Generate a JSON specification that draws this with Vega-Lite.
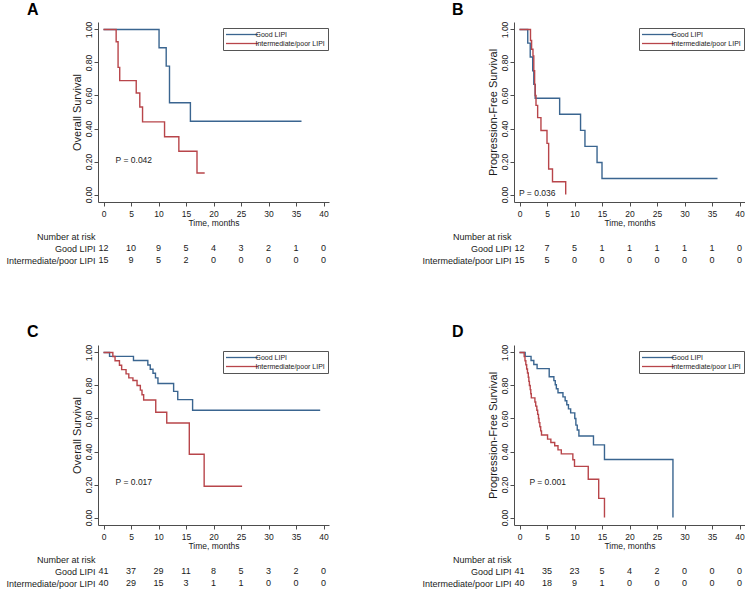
{
  "$schema": "https://vega.github.io/schema/vega-lite/v6.json",
  "background": "white",
  "padding": {"left": 5, "top": 2, "right": 0, "bottom": 0},
  "datasets": {
    "km": [
      {"p":"A","g":"Good LIPI","t":0,"s":1},{"p":"A","g":"Good LIPI","t":10.1,"s":0.889},{"p":"A","g":"Good LIPI","t":11.4,"s":0.778},{"p":"A","g":"Good LIPI","t":12.0,"s":0.556},{"p":"A","g":"Good LIPI","t":15.8,"s":0.444},{"p":"A","g":"Good LIPI","t":36.0,"s":0.444},
      {"p":"A","g":"Intermediate/poor LIPI","t":0,"s":1},{"p":"A","g":"Intermediate/poor LIPI","t":2.3,"s":0.925},{"p":"A","g":"Intermediate/poor LIPI","t":2.65,"s":0.77},{"p":"A","g":"Intermediate/poor LIPI","t":2.95,"s":0.69},{"p":"A","g":"Intermediate/poor LIPI","t":5.95,"s":0.615},{"p":"A","g":"Intermediate/poor LIPI","t":6.6,"s":0.53},{"p":"A","g":"Intermediate/poor LIPI","t":7.1,"s":0.44},{"p":"A","g":"Intermediate/poor LIPI","t":11.1,"s":0.35},{"p":"A","g":"Intermediate/poor LIPI","t":13.7,"s":0.262},{"p":"A","g":"Intermediate/poor LIPI","t":17.0,"s":0.131},{"p":"A","g":"Intermediate/poor LIPI","t":18.4,"s":0.131},
      {"p":"B","g":"Good LIPI","t":0,"s":1},{"p":"B","g":"Good LIPI","t":1.5,"s":0.917},{"p":"B","g":"Good LIPI","t":1.95,"s":0.833},{"p":"B","g":"Good LIPI","t":2.4,"s":0.75},{"p":"B","g":"Good LIPI","t":2.6,"s":0.667},{"p":"B","g":"Good LIPI","t":2.85,"s":0.583},{"p":"B","g":"Good LIPI","t":7.3,"s":0.486},{"p":"B","g":"Good LIPI","t":11.1,"s":0.389},{"p":"B","g":"Good LIPI","t":11.9,"s":0.292},{"p":"B","g":"Good LIPI","t":14.1,"s":0.194},{"p":"B","g":"Good LIPI","t":15.0,"s":0.097},{"p":"B","g":"Good LIPI","t":36.0,"s":0.097},
      {"p":"B","g":"Intermediate/poor LIPI","t":0,"s":1},{"p":"B","g":"Intermediate/poor LIPI","t":2.0,"s":0.933},{"p":"B","g":"Intermediate/poor LIPI","t":2.2,"s":0.88},{"p":"B","g":"Intermediate/poor LIPI","t":2.45,"s":0.84},{"p":"B","g":"Intermediate/poor LIPI","t":2.6,"s":0.75},{"p":"B","g":"Intermediate/poor LIPI","t":2.75,"s":0.667},{"p":"B","g":"Intermediate/poor LIPI","t":2.85,"s":0.6},{"p":"B","g":"Intermediate/poor LIPI","t":3.0,"s":0.54},{"p":"B","g":"Intermediate/poor LIPI","t":3.3,"s":0.466},{"p":"B","g":"Intermediate/poor LIPI","t":3.9,"s":0.388},{"p":"B","g":"Intermediate/poor LIPI","t":5.0,"s":0.31},{"p":"B","g":"Intermediate/poor LIPI","t":5.3,"s":0.155},{"p":"B","g":"Intermediate/poor LIPI","t":6.0,"s":0.078},{"p":"B","g":"Intermediate/poor LIPI","t":8.4,"s":0},
      {"p":"C","g":"Good LIPI","t":0,"s":1},{"p":"C","g":"Good LIPI","t":1.1,"s":0.976},{"p":"C","g":"Good LIPI","t":5.45,"s":0.951},{"p":"C","g":"Good LIPI","t":8.06,"s":0.924},{"p":"C","g":"Good LIPI","t":8.5,"s":0.898},{"p":"C","g":"Good LIPI","t":9.0,"s":0.874},{"p":"C","g":"Good LIPI","t":9.45,"s":0.846},{"p":"C","g":"Good LIPI","t":9.9,"s":0.812},{"p":"C","g":"Good LIPI","t":12.75,"s":0.764},{"p":"C","g":"Good LIPI","t":13.5,"s":0.714},{"p":"C","g":"Good LIPI","t":16.2,"s":0.65},{"p":"C","g":"Good LIPI","t":39.4,"s":0.65},
      {"p":"C","g":"Intermediate/poor LIPI","t":0,"s":1},{"p":"C","g":"Intermediate/poor LIPI","t":1.7,"s":0.975},{"p":"C","g":"Intermediate/poor LIPI","t":2.1,"s":0.95},{"p":"C","g":"Intermediate/poor LIPI","t":2.9,"s":0.922},{"p":"C","g":"Intermediate/poor LIPI","t":3.3,"s":0.896},{"p":"C","g":"Intermediate/poor LIPI","t":4.1,"s":0.87},{"p":"C","g":"Intermediate/poor LIPI","t":4.6,"s":0.846},{"p":"C","g":"Intermediate/poor LIPI","t":5.35,"s":0.83},{"p":"C","g":"Intermediate/poor LIPI","t":6.1,"s":0.8},{"p":"C","g":"Intermediate/poor LIPI","t":6.7,"s":0.772},{"p":"C","g":"Intermediate/poor LIPI","t":7.0,"s":0.744},{"p":"C","g":"Intermediate/poor LIPI","t":7.3,"s":0.712},{"p":"C","g":"Intermediate/poor LIPI","t":9.5,"s":0.638},{"p":"C","g":"Intermediate/poor LIPI","t":11.5,"s":0.573},{"p":"C","g":"Intermediate/poor LIPI","t":15.6,"s":0.383},{"p":"C","g":"Intermediate/poor LIPI","t":18.3,"s":0.19},{"p":"C","g":"Intermediate/poor LIPI","t":25.2,"s":0.19},
      {"p":"D","g":"Good LIPI","t":0,"s":1},{"p":"D","g":"Good LIPI","t":1.03,"s":0.976},{"p":"D","g":"Good LIPI","t":2.1,"s":0.951},{"p":"D","g":"Good LIPI","t":2.6,"s":0.927},{"p":"D","g":"Good LIPI","t":3.2,"s":0.902},{"p":"D","g":"Good LIPI","t":5.4,"s":0.853},{"p":"D","g":"Good LIPI","t":6.25,"s":0.829},{"p":"D","g":"Good LIPI","t":6.5,"s":0.804},{"p":"D","g":"Good LIPI","t":6.7,"s":0.78},{"p":"D","g":"Good LIPI","t":7.0,"s":0.756},{"p":"D","g":"Good LIPI","t":7.9,"s":0.731},{"p":"D","g":"Good LIPI","t":8.3,"s":0.707},{"p":"D","g":"Good LIPI","t":8.6,"s":0.683},{"p":"D","g":"Good LIPI","t":8.9,"s":0.658},{"p":"D","g":"Good LIPI","t":9.3,"s":0.634},{"p":"D","g":"Good LIPI","t":10.05,"s":0.6},{"p":"D","g":"Good LIPI","t":10.25,"s":0.56},{"p":"D","g":"Good LIPI","t":10.5,"s":0.53},{"p":"D","g":"Good LIPI","t":10.8,"s":0.494},{"p":"D","g":"Good LIPI","t":13.45,"s":0.44},{"p":"D","g":"Good LIPI","t":15.45,"s":0.352},{"p":"D","g":"Good LIPI","t":27.9,"s":0},
      {"p":"D","g":"Intermediate/poor LIPI","t":0,"s":1},{"p":"D","g":"Intermediate/poor LIPI","t":0.85,"s":0.975},{"p":"D","g":"Intermediate/poor LIPI","t":1.0,"s":0.95},{"p":"D","g":"Intermediate/poor LIPI","t":1.15,"s":0.925},{"p":"D","g":"Intermediate/poor LIPI","t":1.3,"s":0.9},{"p":"D","g":"Intermediate/poor LIPI","t":1.45,"s":0.875},{"p":"D","g":"Intermediate/poor LIPI","t":1.6,"s":0.85},{"p":"D","g":"Intermediate/poor LIPI","t":1.7,"s":0.825},{"p":"D","g":"Intermediate/poor LIPI","t":1.8,"s":0.8},{"p":"D","g":"Intermediate/poor LIPI","t":1.95,"s":0.775},{"p":"D","g":"Intermediate/poor LIPI","t":2.05,"s":0.75},{"p":"D","g":"Intermediate/poor LIPI","t":2.15,"s":0.725},{"p":"D","g":"Intermediate/poor LIPI","t":2.8,"s":0.7},{"p":"D","g":"Intermediate/poor LIPI","t":2.95,"s":0.675},{"p":"D","g":"Intermediate/poor LIPI","t":3.15,"s":0.65},{"p":"D","g":"Intermediate/poor LIPI","t":3.3,"s":0.625},{"p":"D","g":"Intermediate/poor LIPI","t":3.45,"s":0.6},{"p":"D","g":"Intermediate/poor LIPI","t":3.55,"s":0.575},{"p":"D","g":"Intermediate/poor LIPI","t":3.7,"s":0.55},{"p":"D","g":"Intermediate/poor LIPI","t":3.85,"s":0.525},{"p":"D","g":"Intermediate/poor LIPI","t":4.0,"s":0.5},{"p":"D","g":"Intermediate/poor LIPI","t":5.1,"s":0.475},{"p":"D","g":"Intermediate/poor LIPI","t":5.7,"s":0.455},{"p":"D","g":"Intermediate/poor LIPI","t":6.4,"s":0.435},{"p":"D","g":"Intermediate/poor LIPI","t":7.0,"s":0.41},{"p":"D","g":"Intermediate/poor LIPI","t":7.6,"s":0.386},{"p":"D","g":"Intermediate/poor LIPI","t":9.7,"s":0.35},{"p":"D","g":"Intermediate/poor LIPI","t":10.0,"s":0.31},{"p":"D","g":"Intermediate/poor LIPI","t":12.5,"s":0.232},{"p":"D","g":"Intermediate/poor LIPI","t":14.4,"s":0.116},{"p":"D","g":"Intermediate/poor LIPI","t":15.45,"s":0}
    ],
    "risk": [
      {"p":"A","g":"Good LIPI","t":0,"n":12},{"p":"A","g":"Good LIPI","t":5,"n":10},{"p":"A","g":"Good LIPI","t":10,"n":9},{"p":"A","g":"Good LIPI","t":15,"n":5},{"p":"A","g":"Good LIPI","t":20,"n":4},{"p":"A","g":"Good LIPI","t":25,"n":3},{"p":"A","g":"Good LIPI","t":30,"n":2},{"p":"A","g":"Good LIPI","t":35,"n":1},{"p":"A","g":"Good LIPI","t":40,"n":0},
      {"p":"A","g":"Intermediate/poor LIPI","t":0,"n":15},{"p":"A","g":"Intermediate/poor LIPI","t":5,"n":9},{"p":"A","g":"Intermediate/poor LIPI","t":10,"n":5},{"p":"A","g":"Intermediate/poor LIPI","t":15,"n":2},{"p":"A","g":"Intermediate/poor LIPI","t":20,"n":0},{"p":"A","g":"Intermediate/poor LIPI","t":25,"n":0},{"p":"A","g":"Intermediate/poor LIPI","t":30,"n":0},{"p":"A","g":"Intermediate/poor LIPI","t":35,"n":0},{"p":"A","g":"Intermediate/poor LIPI","t":40,"n":0},
      {"p":"B","g":"Good LIPI","t":0,"n":12},{"p":"B","g":"Good LIPI","t":5,"n":7},{"p":"B","g":"Good LIPI","t":10,"n":5},{"p":"B","g":"Good LIPI","t":15,"n":1},{"p":"B","g":"Good LIPI","t":20,"n":1},{"p":"B","g":"Good LIPI","t":25,"n":1},{"p":"B","g":"Good LIPI","t":30,"n":1},{"p":"B","g":"Good LIPI","t":35,"n":1},{"p":"B","g":"Good LIPI","t":40,"n":0},
      {"p":"B","g":"Intermediate/poor LIPI","t":0,"n":15},{"p":"B","g":"Intermediate/poor LIPI","t":5,"n":5},{"p":"B","g":"Intermediate/poor LIPI","t":10,"n":0},{"p":"B","g":"Intermediate/poor LIPI","t":15,"n":0},{"p":"B","g":"Intermediate/poor LIPI","t":20,"n":0},{"p":"B","g":"Intermediate/poor LIPI","t":25,"n":0},{"p":"B","g":"Intermediate/poor LIPI","t":30,"n":0},{"p":"B","g":"Intermediate/poor LIPI","t":35,"n":0},{"p":"B","g":"Intermediate/poor LIPI","t":40,"n":0},
      {"p":"C","g":"Good LIPI","t":0,"n":41},{"p":"C","g":"Good LIPI","t":5,"n":37},{"p":"C","g":"Good LIPI","t":10,"n":29},{"p":"C","g":"Good LIPI","t":15,"n":11},{"p":"C","g":"Good LIPI","t":20,"n":8},{"p":"C","g":"Good LIPI","t":25,"n":5},{"p":"C","g":"Good LIPI","t":30,"n":3},{"p":"C","g":"Good LIPI","t":35,"n":2},{"p":"C","g":"Good LIPI","t":40,"n":0},
      {"p":"C","g":"Intermediate/poor LIPI","t":0,"n":40},{"p":"C","g":"Intermediate/poor LIPI","t":5,"n":29},{"p":"C","g":"Intermediate/poor LIPI","t":10,"n":15},{"p":"C","g":"Intermediate/poor LIPI","t":15,"n":3},{"p":"C","g":"Intermediate/poor LIPI","t":20,"n":1},{"p":"C","g":"Intermediate/poor LIPI","t":25,"n":1},{"p":"C","g":"Intermediate/poor LIPI","t":30,"n":0},{"p":"C","g":"Intermediate/poor LIPI","t":35,"n":0},{"p":"C","g":"Intermediate/poor LIPI","t":40,"n":0},
      {"p":"D","g":"Good LIPI","t":0,"n":41},{"p":"D","g":"Good LIPI","t":5,"n":35},{"p":"D","g":"Good LIPI","t":10,"n":23},{"p":"D","g":"Good LIPI","t":15,"n":5},{"p":"D","g":"Good LIPI","t":20,"n":4},{"p":"D","g":"Good LIPI","t":25,"n":2},{"p":"D","g":"Good LIPI","t":30,"n":0},{"p":"D","g":"Good LIPI","t":35,"n":0},{"p":"D","g":"Good LIPI","t":40,"n":0},
      {"p":"D","g":"Intermediate/poor LIPI","t":0,"n":40},{"p":"D","g":"Intermediate/poor LIPI","t":5,"n":18},{"p":"D","g":"Intermediate/poor LIPI","t":10,"n":9},{"p":"D","g":"Intermediate/poor LIPI","t":15,"n":1},{"p":"D","g":"Intermediate/poor LIPI","t":20,"n":0},{"p":"D","g":"Intermediate/poor LIPI","t":25,"n":0},{"p":"D","g":"Intermediate/poor LIPI","t":30,"n":0},{"p":"D","g":"Intermediate/poor LIPI","t":35,"n":0},{"p":"D","g":"Intermediate/poor LIPI","t":40,"n":0}
    ]
  },
  "columns": 2,
  "spacing": {"row": 58, "column": 92},
  "resolve": {"scale": {"x": "independent", "y": "independent", "color": "independent"}, "legend": {"color": "independent"}},
  "concat": [
    {
      "spacing": 3,
      "resolve": {"scale": {"x": "independent", "y": "independent"}},
      "vconcat": [
        {
          "title": {"text": "A", "anchor": "start", "frame": "group", "dx": -71, "offset": 3},
          "width": 231, "height": 180,
          "layer": [
            {
              "data": {"name": "km"}, "transform": [{"filter": "datum.p == 'A'"}],
              "mark": {"type": "line", "interpolate": "step-after", "strokeWidth": 1.4},
              "encoding": {
                "x": {"field": "t", "type": "quantitative", "scale": {"domain": [-1, 41], "nice": false, "zero": false}, "axis": {"values": [0,5,10,15,20,25,30,35,40], "title": "Time, months", "labelOverlap": false}},
                "y": {"field": "s", "type": "quantitative", "scale": {"domain": [-0.045, 1.045], "nice": false, "zero": false}, "axis": {"values": [0,0.2,0.4,0.6,0.8,1], "format": ".2f", "title": "Overall Survival", "labelOverlap": false}},
                "color": {"field": "g", "type": "nominal", "scale": {"domain": ["Good LIPI", "Intermediate/poor LIPI"], "range": ["#3a6590", "#b8454a"]},
                  "legend": {"title": null, "orient": "none", "legendX": 125, "legendY": 6, "symbolType": "M0,0H16", "symbolSize": 16, "symbolOffset": -3.5, "symbolStrokeWidth": 1.3, "labelFontSize": 7, "labelOffset": 26, "rowPadding": 1, "padding": 3, "strokeColor": "#555", "fillColor": "white", "labelLimit": 300}}
              }
            },
            {
              "data": {"values": [{}]},
              "mark": {"type": "text", "align": "left", "baseline": "middle", "fontSize": 8.5},
              "encoding": {
                "x": {"datum": 2.2, "type": "quantitative", "axis": {"values": [0,5,10,15,20,25,30,35,40], "title": "Time, months", "labelOverlap": false}},
                "y": {"datum": 0.212, "type": "quantitative", "axis": {"values": [0,0.2,0.4,0.6,0.8,1], "format": ".2f", "title": "Overall Survival", "labelOverlap": false}},
                "text": {"value": "P = 0.042"}}
            }
          ]
        },
        {
          "width": 231, "height": 36,
          "data": {"name": "risk"}, "transform": [{"filter": "datum.p == 'A'"}],
          "mark": {"type": "text", "fontSize": 9},
          "encoding": {
            "x": {"field": "t", "type": "quantitative", "scale": {"domain": [-1, 41], "nice": false, "zero": false}, "axis": null},
            "y": {"field": "g", "type": "nominal", "scale": {"type": "point", "padding": 0.5, "domain": ["Number at risk", "Good LIPI", "Intermediate/poor LIPI"]}, "axis": {"title": null, "domain": false, "ticks": false, "labelAngle": 0, "labelAlign": "right", "labelBaseline": "middle", "labelPadding": 3, "labelFontSize": 9, "labelLimit": 300}},
            "text": {"field": "n", "type": "nominal"}
          }
        }
      ]
    },
    {
      "spacing": 3,
      "resolve": {"scale": {"x": "independent", "y": "independent"}},
      "vconcat": [
        {
          "title": {"text": "B", "anchor": "start", "frame": "group", "dx": -62, "offset": 3},
          "width": 231, "height": 180,
          "layer": [
            {
              "data": {"name": "km"}, "transform": [{"filter": "datum.p == 'B'"}],
              "mark": {"type": "line", "interpolate": "step-after", "strokeWidth": 1.4},
              "encoding": {
                "x": {"field": "t", "type": "quantitative", "scale": {"domain": [-1, 41], "nice": false, "zero": false}, "axis": {"values": [0,5,10,15,20,25,30,35,40], "title": "Time, months", "labelOverlap": false}},
                "y": {"field": "s", "type": "quantitative", "scale": {"domain": [-0.045, 1.045], "nice": false, "zero": false}, "axis": {"values": [0,0.2,0.4,0.6,0.8,1], "format": ".2f", "title": "Progression-Free Survival", "labelOverlap": false}},
                "color": {"field": "g", "type": "nominal", "scale": {"domain": ["Good LIPI", "Intermediate/poor LIPI"], "range": ["#3a6590", "#b8454a"]},
                  "legend": {"title": null, "orient": "none", "legendX": 125, "legendY": 6, "symbolType": "M0,0H16", "symbolSize": 16, "symbolOffset": -3.5, "symbolStrokeWidth": 1.3, "labelFontSize": 7, "labelOffset": 26, "rowPadding": 1, "padding": 3, "strokeColor": "#555", "fillColor": "white", "labelLimit": 300}}
              }
            },
            {
              "data": {"values": [{}]},
              "mark": {"type": "text", "align": "left", "baseline": "middle", "fontSize": 8.5},
              "encoding": {
                "x": {"datum": -0.1, "type": "quantitative", "axis": {"values": [0,5,10,15,20,25,30,35,40], "title": "Time, months", "labelOverlap": false}},
                "y": {"datum": 0.012, "type": "quantitative", "axis": {"values": [0,0.2,0.4,0.6,0.8,1], "format": ".2f", "title": "Progression-Free Survival", "labelOverlap": false}},
                "text": {"value": "P = 0.036"}}
            }
          ]
        },
        {
          "width": 231, "height": 36,
          "data": {"name": "risk"}, "transform": [{"filter": "datum.p == 'B'"}],
          "mark": {"type": "text", "fontSize": 9},
          "encoding": {
            "x": {"field": "t", "type": "quantitative", "scale": {"domain": [-1, 41], "nice": false, "zero": false}, "axis": null},
            "y": {"field": "g", "type": "nominal", "scale": {"type": "point", "padding": 0.5, "domain": ["Number at risk", "Good LIPI", "Intermediate/poor LIPI"]}, "axis": {"title": null, "domain": false, "ticks": false, "labelAngle": 0, "labelAlign": "right", "labelBaseline": "middle", "labelPadding": 3, "labelFontSize": 9, "labelLimit": 300}},
            "text": {"field": "n", "type": "nominal"}
          }
        }
      ]
    },
    {
      "spacing": 3,
      "resolve": {"scale": {"x": "independent", "y": "independent"}},
      "vconcat": [
        {
          "title": {"text": "C", "anchor": "start", "frame": "group", "dx": -71, "offset": 4},
          "width": 231, "height": 180,
          "layer": [
            {
              "data": {"name": "km"}, "transform": [{"filter": "datum.p == 'C'"}],
              "mark": {"type": "line", "interpolate": "step-after", "strokeWidth": 1.4},
              "encoding": {
                "x": {"field": "t", "type": "quantitative", "scale": {"domain": [-1, 41], "nice": false, "zero": false}, "axis": {"values": [0,5,10,15,20,25,30,35,40], "title": "Time, months", "labelOverlap": false}},
                "y": {"field": "s", "type": "quantitative", "scale": {"domain": [-0.045, 1.045], "nice": false, "zero": false}, "axis": {"values": [0,0.2,0.4,0.6,0.8,1], "format": ".2f", "title": "Overall Survival", "labelOverlap": false}},
                "color": {"field": "g", "type": "nominal", "scale": {"domain": ["Good LIPI", "Intermediate/poor LIPI"], "range": ["#3a6590", "#b8454a"]},
                  "legend": {"title": null, "orient": "none", "legendX": 125, "legendY": 6, "symbolType": "M0,0H16", "symbolSize": 16, "symbolOffset": -3.5, "symbolStrokeWidth": 1.3, "labelFontSize": 7, "labelOffset": 26, "rowPadding": 1, "padding": 3, "strokeColor": "#555", "fillColor": "white", "labelLimit": 300}}
              }
            },
            {
              "data": {"values": [{}]},
              "mark": {"type": "text", "align": "left", "baseline": "middle", "fontSize": 8.5},
              "encoding": {
                "x": {"datum": 2.2, "type": "quantitative", "axis": {"values": [0,5,10,15,20,25,30,35,40], "title": "Time, months", "labelOverlap": false}},
                "y": {"datum": 0.214, "type": "quantitative", "axis": {"values": [0,0.2,0.4,0.6,0.8,1], "format": ".2f", "title": "Overall Survival", "labelOverlap": false}},
                "text": {"value": "P = 0.017"}}
            }
          ]
        },
        {
          "width": 231, "height": 36,
          "data": {"name": "risk"}, "transform": [{"filter": "datum.p == 'C'"}],
          "mark": {"type": "text", "fontSize": 9},
          "encoding": {
            "x": {"field": "t", "type": "quantitative", "scale": {"domain": [-1, 41], "nice": false, "zero": false}, "axis": null},
            "y": {"field": "g", "type": "nominal", "scale": {"type": "point", "padding": 0.5, "domain": ["Number at risk", "Good LIPI", "Intermediate/poor LIPI"]}, "axis": {"title": null, "domain": false, "ticks": false, "labelAngle": 0, "labelAlign": "right", "labelBaseline": "middle", "labelPadding": 3, "labelFontSize": 9, "labelLimit": 300}},
            "text": {"field": "n", "type": "nominal"}
          }
        }
      ]
    },
    {
      "spacing": 3,
      "resolve": {"scale": {"x": "independent", "y": "independent"}},
      "vconcat": [
        {
          "title": {"text": "D", "anchor": "start", "frame": "group", "dx": -62, "offset": 4},
          "width": 231, "height": 180,
          "layer": [
            {
              "data": {"name": "km"}, "transform": [{"filter": "datum.p == 'D'"}],
              "mark": {"type": "line", "interpolate": "step-after", "strokeWidth": 1.4},
              "encoding": {
                "x": {"field": "t", "type": "quantitative", "scale": {"domain": [-1, 41], "nice": false, "zero": false}, "axis": {"values": [0,5,10,15,20,25,30,35,40], "title": "Time, months", "labelOverlap": false}},
                "y": {"field": "s", "type": "quantitative", "scale": {"domain": [-0.045, 1.045], "nice": false, "zero": false}, "axis": {"values": [0,0.2,0.4,0.6,0.8,1], "format": ".2f", "title": "Progression-Free Survival", "labelOverlap": false}},
                "color": {"field": "g", "type": "nominal", "scale": {"domain": ["Good LIPI", "Intermediate/poor LIPI"], "range": ["#3a6590", "#b8454a"]},
                  "legend": {"title": null, "orient": "none", "legendX": 125, "legendY": 6, "symbolType": "M0,0H16", "symbolSize": 16, "symbolOffset": -3.5, "symbolStrokeWidth": 1.3, "labelFontSize": 7, "labelOffset": 26, "rowPadding": 1, "padding": 3, "strokeColor": "#555", "fillColor": "white", "labelLimit": 300}}
              }
            },
            {
              "data": {"values": [{}]},
              "mark": {"type": "text", "align": "left", "baseline": "middle", "fontSize": 8.5},
              "encoding": {
                "x": {"datum": 1.8, "type": "quantitative", "axis": {"values": [0,5,10,15,20,25,30,35,40], "title": "Time, months", "labelOverlap": false}},
                "y": {"datum": 0.214, "type": "quantitative", "axis": {"values": [0,0.2,0.4,0.6,0.8,1], "format": ".2f", "title": "Progression-Free Survival", "labelOverlap": false}},
                "text": {"value": "P = 0.001"}}
            }
          ]
        },
        {
          "width": 231, "height": 36,
          "data": {"name": "risk"}, "transform": [{"filter": "datum.p == 'D'"}],
          "mark": {"type": "text", "fontSize": 9},
          "encoding": {
            "x": {"field": "t", "type": "quantitative", "scale": {"domain": [-1, 41], "nice": false, "zero": false}, "axis": null},
            "y": {"field": "g", "type": "nominal", "scale": {"type": "point", "padding": 0.5, "domain": ["Number at risk", "Good LIPI", "Intermediate/poor LIPI"]}, "axis": {"title": null, "domain": false, "ticks": false, "labelAngle": 0, "labelAlign": "right", "labelBaseline": "middle", "labelPadding": 3, "labelFontSize": 9, "labelLimit": 300}},
            "text": {"field": "n", "type": "nominal"}
          }
        }
      ]
    }
  ],
  "config": {
    "font": "Liberation Sans, Arial, sans-serif",
    "view": {"stroke": null},
    "text": {"color": "#1a1a1a"},
    "title": {"font": "Liberation Sans, Arial, sans-serif", "fontSize": 16, "fontWeight": "bold", "color": "#000000"},
    "axis": {"grid": false, "domainColor": "#4d4d4d", "tickColor": "#4d4d4d", "tickSize": 4, "labelFontSize": 8.5, "labelColor": "#1a1a1a", "titleColor": "#1a1a1a", "titleFontWeight": "normal", "labelOverlap": false},
    "axisX": {"labelPadding": 3, "titleFontSize": 8.5, "titlePadding": 1, "labelAngle": 0},
    "axisY": {"labelAngle": -90, "labelAlign": "center", "labelBaseline": "bottom", "labelPadding": 1, "titleFontSize": 11, "titlePadding": 2},
    "legend": {"labelColor": "#1a1a1a"}
  }
}
